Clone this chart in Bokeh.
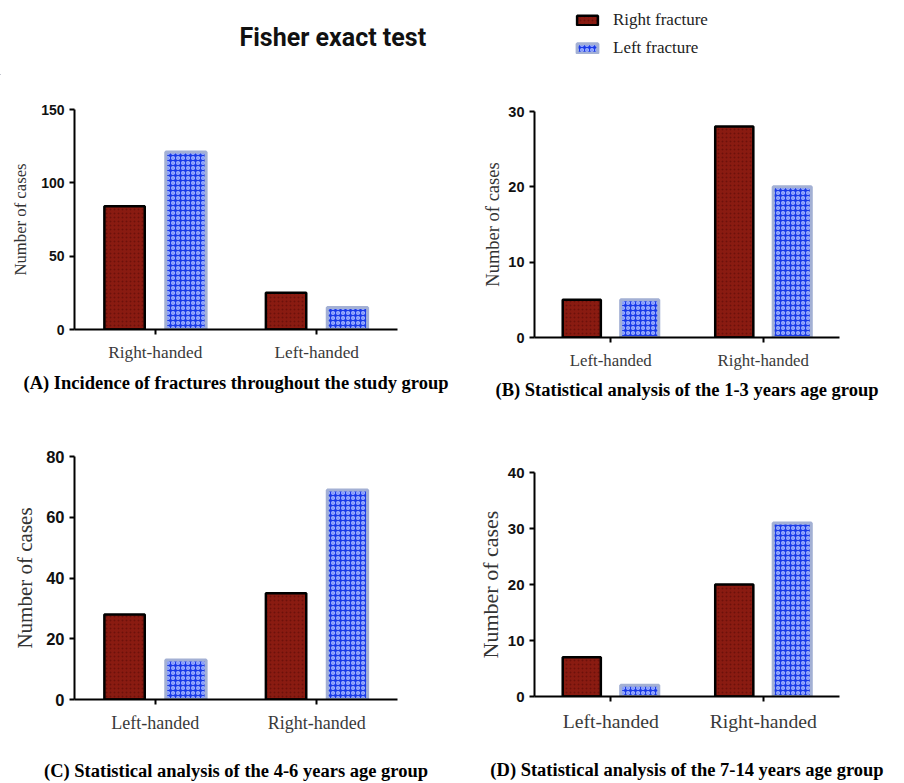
from bokeh.plotting import figure
from bokeh.models import (ColumnDataSource, Range1d, FactorRange, FixedTicker,
                          Legend, LegendItem, Label)
from bokeh.transform import dodge
from bokeh.layouts import column, row
from bokeh.embed import file_html
from bokeh.resources import INLINE

# ---------------- data ----------------
series_names = ["Right fracture", "Left fracture"]

cats_A = ["Right-handed", "Left-handed"]
right_A = [84, 25]
left_A = [121, 15]
ticks_A = [0, 50, 100, 150]

cats_B = ["Left-handed", "Right-handed"]
right_B = [5, 28]
left_B = [5, 20]
ticks_B = [0, 10, 20, 30]

cats_C = ["Left-handed", "Right-handed"]
right_C = [28, 35]
left_C = [13, 69]
ticks_C = [0, 20, 40, 60, 80]

cats_D = ["Left-handed", "Right-handed"]
right_D = [7, 20]
left_D = [2, 31]
ticks_D = [0, 10, 20, 30, 40]

captions = [
    "(A) Incidence of fractures throughout the study group",
    "(B) Statistical analysis of the 1-3 years age group",
    "(C) Statistical analysis of the 4-6 years age group",
    "(D) Statistical analysis of the 7-14 years age group",
]
main_title = "Fisher exact test"

# ---------------- styles ----------------
RED_FILL = "#8a1b11"
RED_HATCH = "#5a0a05"
BLUE_FILL = "#1a3ae8"
BLUE_HATCH = "#a2b5ff"
BLUE_LINE = "#a3b0d4"

red_style = dict(fill_color=RED_FILL, line_color="black", line_width=2.5,
                 hatch_pattern="dot", hatch_color=RED_HATCH, hatch_scale=4, hatch_alpha=0.6)
blue_style = dict(fill_color=BLUE_FILL, line_color=BLUE_LINE, line_width=3,
                  hatch_pattern="ring", hatch_color=BLUE_HATCH, hatch_scale=5,
                  hatch_weight=1.5, hatch_alpha=1.0)


def make_panel(cats, rv, lv, ticks, caption, w, h, bl, br, bt, bb,
               label_size, cat_size, tick_size, label_standoff, cap_standoff):
    src = ColumnDataSource(dict(cats=cats, right=rv, left=lv))
    p = figure(x_range=FactorRange(*cats), y_range=Range1d(0, ticks[-1]),
               width=w, height=h, output_backend="svg", toolbar_location=None,
               min_border_left=bl, min_border_right=br, min_border_top=bt,
               min_border_bottom=bb)
    p.vbar(x=dodge("cats", -0.19, range=p.x_range), top="right", width=0.25,
           source=src, **red_style)
    p.vbar(x=dodge("cats", 0.19, range=p.x_range), top="left", width=0.25,
           source=src, **blue_style)
    p.outline_line_color = None
    p.xgrid.visible = False
    p.ygrid.visible = False
    p.background_fill_color = "white"
    p.border_fill_color = "white"

    ya = p.yaxis[0]
    ya.ticker = FixedTicker(ticks=ticks)
    ya.axis_label = "Number of cases"
    ya.axis_label_text_font = "Liberation Serif"
    ya.axis_label_text_font_style = "normal"
    ya.axis_label_text_font_size = label_size
    ya.axis_label_text_color = "#333333"
    ya.axis_label_standoff = label_standoff
    ya.major_label_text_font = "Liberation Sans"
    ya.major_label_text_font_style = "bold"
    ya.major_label_text_font_size = tick_size
    ya.major_label_text_color = "#111111"
    ya.axis_line_width = 2
    ya.major_tick_line_width = 2
    ya.major_tick_out = 5
    ya.major_tick_in = 0
    ya.minor_tick_line_color = None

    xa = p.xaxis[0]
    xa.major_label_text_font = "Liberation Serif"
    xa.major_label_text_font_size = cat_size
    xa.major_label_text_color = "#3a3a3a"
    xa.axis_line_width = 2
    xa.major_tick_line_width = 2
    xa.major_tick_out = 5
    xa.major_tick_in = 0
    xa.major_label_standoff = 8
    # panel caption drawn as the x-axis label
    xa.axis_label = caption
    xa.axis_label_text_font = "Liberation Serif"
    xa.axis_label_text_font_style = "bold"
    xa.axis_label_text_font_size = "18.5px"
    xa.axis_label_text_color = "black"
    xa.axis_label_standoff = cap_standoff
    return p


# ---------------- header (title + legend) ----------------
HEADER_H = 75
header = figure(width=904, height=HEADER_H, output_backend="svg", toolbar_location=None,
                x_range=Range1d(0, 1), y_range=Range1d(0, 1),
                min_border_left=0, min_border_right=0, min_border_top=0, min_border_bottom=0)
header.axis.visible = False
header.grid.visible = False
header.outline_line_color = None
# legend-only renderers (kept outside the visible range)
hsrc = ColumnDataSource(dict(x=[-10.0], top=[0.0]))
r_red = header.vbar(x="x", top="top", width=0.1, source=hsrc, **red_style)
r_blue = header.vbar(x="x", top="top", width=0.1, source=hsrc, **blue_style)
legend = Legend(items=[LegendItem(label=series_names[0], renderers=[r_red]),
                       LegendItem(label=series_names[1], renderers=[r_blue])],
                location=(574, 17), orientation="vertical",
                border_line_color=None, background_fill_alpha=0,
                padding=0, margin=0, spacing=8,
                glyph_width=26, glyph_height=12, label_standoff=13,
                label_text_font="Liberation Serif", label_text_font_size="17px",
                label_text_color="#222222")
header.add_layout(legend, "center")
header.add_layout(Label(x=239, y=HEADER_H - 37, x_units="screen", y_units="screen",
                        text=main_title, text_font="Roboto", text_font_style="bold",
                        text_font_size="25px", text_color="#111111",
                        text_baseline="middle", text_align="left"))

pA = make_panel(cats_A, right_A, left_A, ticks_A, captions[0], 460, 335, 71, 55, 34, 81,
                "16.7px", "17.3px", "14px", 8, 8)
pB = make_panel(cats_B, right_B, left_B, ticks_B, captions[1], 444, 335, 74, 49, 36, 73,
                "18.5px", "16.8px", "14.5px", 2, 7)
pC = make_panel(cats_C, right_C, left_C, ticks_C, captions[2], 460, 373, 74, 63, 46, 81,
                "21px", "18px", "16.5px", 6, 25)
pD = make_panel(cats_D, right_D, left_D, ticks_D, captions[3], 444, 373, 73, 65, 62, 87,
                "22px", "19.7px", "15px", 2, 25)

layout = column(header, row(column(pA, pC), column(pB, pD)))
open("out.html", "w").write(file_html(layout, INLINE))
